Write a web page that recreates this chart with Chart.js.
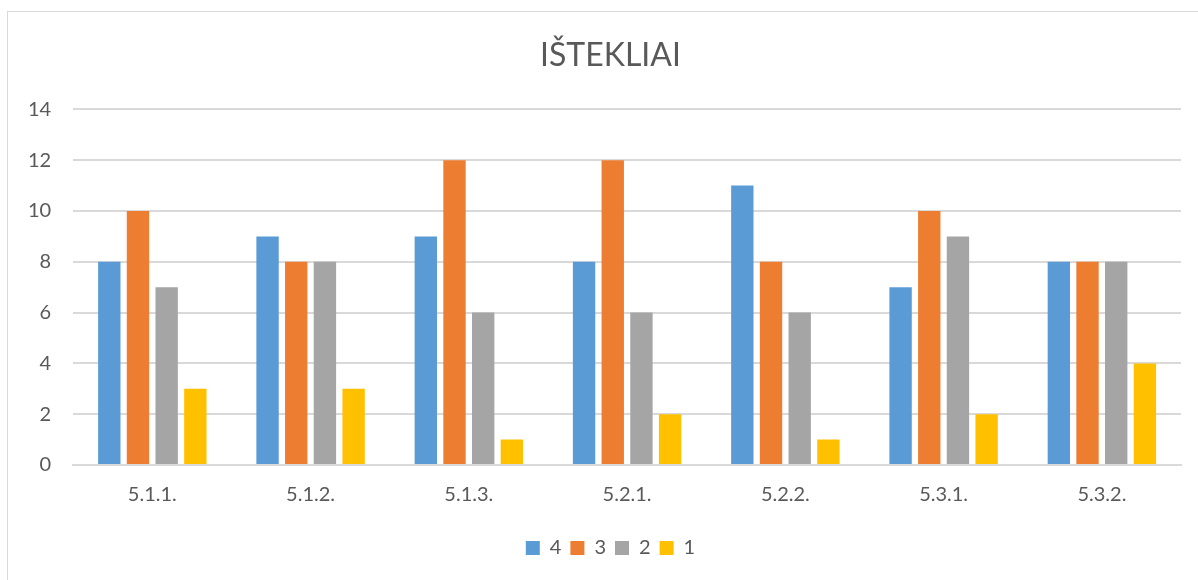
<!DOCTYPE html>
<html><head><meta charset="utf-8">
<script src="https://cdn.jsdelivr.net/npm/chart.js@4"></script>
<style>
html,body{margin:0;padding:0;background:#fff;}
#frame{position:absolute;left:7px;top:11px;width:1200px;height:580px;border:1px solid #d9d9d9;box-sizing:border-box;}
#wrap{position:absolute;left:0;top:0;width:1198px;height:580px;}
</style></head>
<body>
<div id="frame"></div>
<div id="wrap"><canvas id="c"></canvas></div>
<script>
const categories = ["5.1.1.","5.1.2.","5.1.3.","5.2.1.","5.2.2.","5.3.1.","5.3.2."];
const s4 = [8,9,9,8,11,7,8];
const s3 = [10,8,12,12,8,10,8];
const s2 = [7,8,6,6,6,9,8];
const s1 = [3,3,1,2,1,2,4];
const seriesNames = ["4","3","2","1"];
const colors = ["#5b9bd5","#ed7d31","#a5a5a5","#ffc000"];
const FONT = "Lato, 'Open Sans', sans-serif";
const data = {
  labels: categories,
  datasets: [s4,s3,s2,s1].map((d,i)=>({label:seriesNames[i],data:d,backgroundColor:colors[i],categoryPercentage:0.725,barPercentage:0.78}))
};
// shift title & legend to be centred on the outer frame, like the original
const shiftPlugin = {
  id:'shift',
  afterLayout(chart){
    const dx = 17, dy = 12;
    const t = chart.titleBlock;
    if (t){ t.left += dx; t.right += dx; }
    const l = chart.legend;
    if (l){ l.left += dx; l.right += dx; l.top += dy; l.bottom += dy; }
  }
};
new Chart(document.getElementById('c'),{
  type:'bar',
  data,
  plugins:[shiftPlugin],
  options:{
    responsive:true,maintainAspectRatio:false,animation:false,
    layout:{padding:{left:6,right:17,top:12,bottom:24}},
    plugins:{
      title:{display:true,text:"IŠTEKLIAI",color:"#595959",font:{family:FONT,size:32,weight:'normal'},padding:{top:24,bottom:35}},
      legend:{position:'bottom',labels:{color:"#595959",font:{family:FONT,size:20},boxWidth:14,boxHeight:14,padding:9},},
      tooltip:{enabled:false}
    },
    scales:{
      x:{grid:{display:false},border:{color:"#d9d9d9",width:2},ticks:{color:"#595959",font:{family:FONT,size:20},padding:10}},
      y:{min:0,max:14,ticks:{stepSize:2,color:"#595959",font:{family:FONT,size:20},padding:22},grid:{color:"#d9d9d9",lineWidth:2,drawTicks:false},border:{display:false}}
    }
  }
});
</script>
</body></html>
